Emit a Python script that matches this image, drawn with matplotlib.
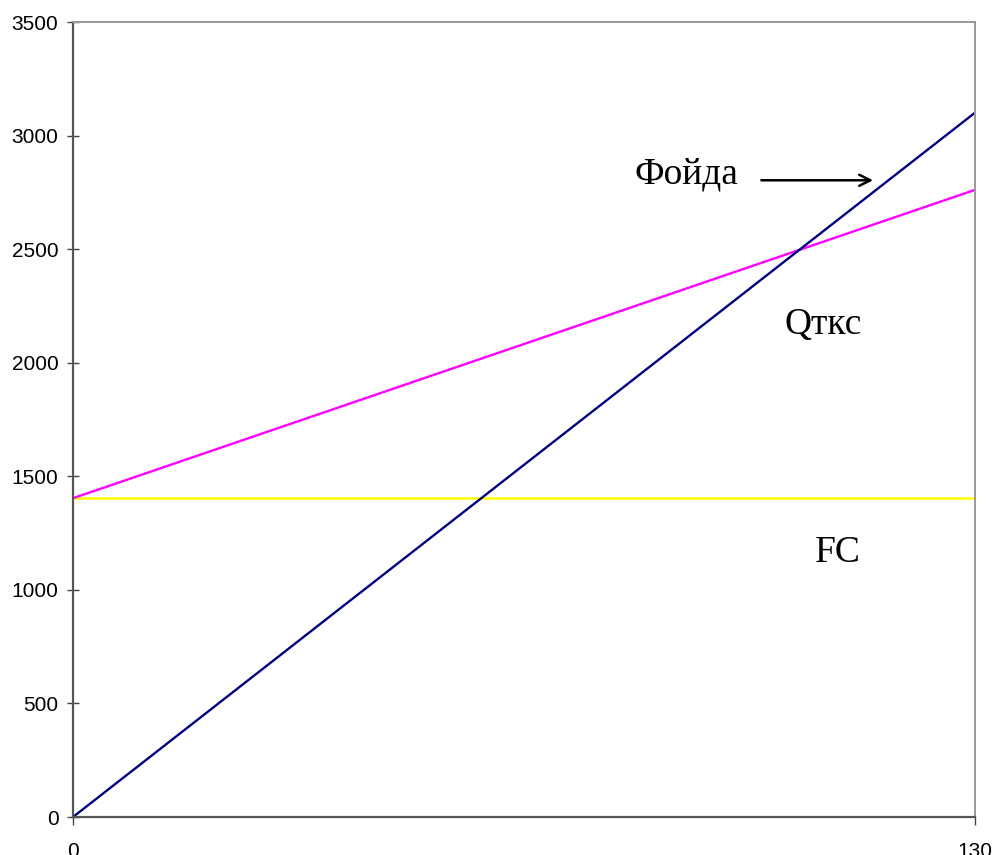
import numpy as np
import matplotlib.pyplot as plt

# Break-even chart data
x = [0, 130]
profit = [0, 3102]      # revenue line (navy)
total_cost = [1404, 2762]  # magenta
fixed_cost = [1404, 1404]  # FC, yellow

yticks = [0, 500, 1000, 1500, 2000, 2500, 3000, 3500]
xticks = [0, 130]

fig = plt.figure(figsize=(9.94, 8.55), dpi=100)
ax = fig.add_axes([0.0734, 0.0444, 0.9076, 0.9296])

ax.plot(x, fixed_cost, color='#FFFF00', lw=1.8)
ax.plot(x, total_cost, color='#FF00FF', lw=1.7)
ax.plot(x, profit, color='#000080', lw=1.7)

ax.set_xlim(0, 130)
ax.set_ylim(0, 3500)
ax.set_xticks(xticks)
ax.set_yticks(yticks)
ax.tick_params(axis='y', direction='inout', length=9, width=1, color='#444444',
               labelsize=15, pad=6)
ax.tick_params(axis='x', direction='out', length=6, width=1, color='#444444',
               labelsize=15, pad=12)
for lab in ax.get_xticklabels() + ax.get_yticklabels():
    lab.set_family('Liberation Sans')

for side in ['left', 'bottom']:
    ax.spines[side].set_color('#555555')
    ax.spines[side].set_linewidth(1.6)
for side in ['top', 'right']:
    ax.spines[side].set_color('#999999')
    ax.spines[side].set_linewidth(1.4)

serif = 'Liberation Serif'
ax.text(80.9, 2790, 'Фойда', family=serif, fontsize=27)
ax.annotate('', xy=(115.3, 2804), xytext=(99.2, 2804),
            arrowprops=dict(arrowstyle='->', color='black', lw=1.8,
                            mutation_scale=20, shrinkA=0, shrinkB=0))
ax.text(102.6, 2125, 'Qткс', family=serif, fontsize=27)
ax.text(106.9, 1125, 'FC', family=serif, fontsize=27)

fig.savefig('out.png', dpi=100)
